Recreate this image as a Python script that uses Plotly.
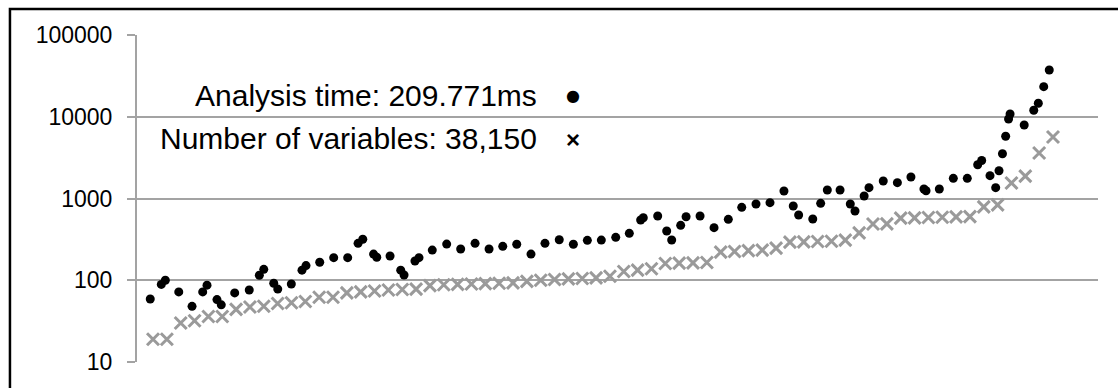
import plotly.graph_objects as go

# Analysis time series (black dots): x = program position, y = time (ms)
time_x = [-0.2, 0.6, 0.89, 1.86, 2.82, 3.59, 3.9, 4.62, 4.93, 5.9, 6.95, 7.68, 8.0, 8.72, 9.01,
          9.99, 10.76, 11.05, 12.04, 13.05, 14.06, 14.81, 15.15, 15.93, 16.16, 17.12, 17.89, 18.13,
          18.92, 19.21, 20.17, 21.21, 22.22, 23.26, 24.27, 25.26, 26.27, 27.3, 28.31, 29.34, 30.36,
          31.37, 32.38, 33.42, 34.4, 35.22, 35.41, 36.45, 37.1, 37.46, 38.11, 38.5, 39.51, 40.52,
          41.55, 42.52, 43.55, 44.56, 45.57, 46.24, 46.63, 47.65, 48.22, 48.7, 49.62, 50.36, 50.7,
          51.36, 51.71, 52.74, 53.76, 54.74, 55.68, 55.83, 56.79, 57.8, 58.81, 59.56, 59.85, 60.45,
          60.86, 61.1, 61.35, 61.58, 61.79, 61.9, 62.92, 63.61, 63.94, 64.33, 64.73]
time_ms = [59, 89, 100, 72, 48, 72, 87, 58, 50, 70, 76, 115, 136, 92, 78,
           90, 133, 151, 166, 189, 189, 283, 317, 209, 191, 198, 133, 116,
           172, 189, 234, 277, 241, 283, 241, 260, 276, 209, 283, 313, 276,
           308, 310, 335, 375, 546, 582, 611, 400, 311, 470, 598, 611, 440,
           556, 780, 857, 889, 1236, 809, 629, 561, 873, 1271, 1271, 857, 703,
           1073, 1356, 1637, 1561, 1832, 1306, 1245, 1306, 1766, 1766, 2589, 2916, 1901,
           1356, 2188, 3532, 5767, 9390, 10820, 7925, 12000, 14620, 23330, 37330]

# Number of variables series (gray crosses)
var_x = list(range(66))
var_count = [19, 19, 30, 32, 36, 36, 44, 47, 48, 52, 53, 55, 62, 62, 70, 72, 74, 76, 77, 78,
             86, 88, 89, 90, 91, 92, 93, 97, 100, 102, 104, 105, 107, 112, 128, 133, 138, 160,
             162, 163, 165, 221, 225, 230, 234, 247, 293, 295, 298, 300, 310, 380, 487, 490,
             575, 580, 585, 590, 595, 600, 790, 835, 1550, 1880, 3600, 5650]

y_tick_vals = [10, 100, 1000, 10000, 100000]
y_tick_text = ["10", "100", "1000", "10000", "100000"]

legend_time = "Analysis time: 209.771ms"
legend_vars = "Number of variables: 38,150"

GRID = "#a3a3a3"
FONT = "Liberation Sans, Arial, sans-serif"

fig = go.Figure()
fig.add_trace(go.Scatter(
    x=var_x, y=var_count, mode="markers", name=legend_vars,
    marker=dict(symbol="x-thin", size=12, line=dict(width=3, color="#9a9a9a"), color="#9a9a9a"),
))
fig.add_trace(go.Scatter(
    x=time_x, y=time_ms, mode="markers", name=legend_time,
    marker=dict(symbol="circle", size=9, color="black"),
))

fig.update_layout(
    width=1118, height=388,
    margin=dict(l=137, r=20, t=35, b=26, pad=0),
    paper_bgcolor="white", plot_bgcolor="white",
    showlegend=False,
    font=dict(family=FONT, color="black"),
    xaxis=dict(range=[-1.156, 68.25], showgrid=False, zeroline=False,
               showticklabels=False, showline=False, ticks=""),
    yaxis=dict(type="log", range=[1, 5], tickvals=y_tick_vals, ticktext=y_tick_text,
               showgrid=True, gridcolor=GRID, gridwidth=2,
               showline=True, linecolor=GRID, linewidth=2,
               ticks="outside", ticklen=8, tickwidth=2, tickcolor=GRID,
               ticklabelstandoff=10, tickfont=dict(size=23, family=FONT, color="black"),
               zeroline=False),
)

# outer chart border
fig.add_shape(type="rect", xref="paper", yref="paper",
              x0=-0.1322, x1=1.1, y0=-0.2, y1=1.0795,
              line=dict(color="black", width=2.5), fillcolor="rgba(0,0,0,0)", layer="above")

# legend (text left, symbol right)
fig.add_annotation(xref="paper", yref="paper", x=0.4183, y=0.8135, xanchor="right", yanchor="middle",
                   text=legend_time, showarrow=False, font=dict(size=30, family=FONT, color="black"))
fig.add_annotation(xref="paper", yref="paper", x=0.4183, y=0.685, xanchor="right", yanchor="middle",
                   text=legend_vars, showarrow=False, font=dict(size=30, family=FONT, color="black"))
fig.add_annotation(xref="paper", yref="paper", x=0.4537, y=0.8165, xanchor="center", yanchor="middle",
                   text="●", showarrow=False, font=dict(size=16, family="DejaVu Sans", color="black"))
fig.add_annotation(xref="paper", yref="paper", x=0.4537, y=0.68, xanchor="center", yanchor="middle",
                   text="<b>×</b>", showarrow=False, font=dict(size=24, family=FONT, color="black"))

fig.write_html("out.html", config={"displayModeBar": False},
               post_script="document.body.style.margin='0';document.body.style.overflow='hidden';")
